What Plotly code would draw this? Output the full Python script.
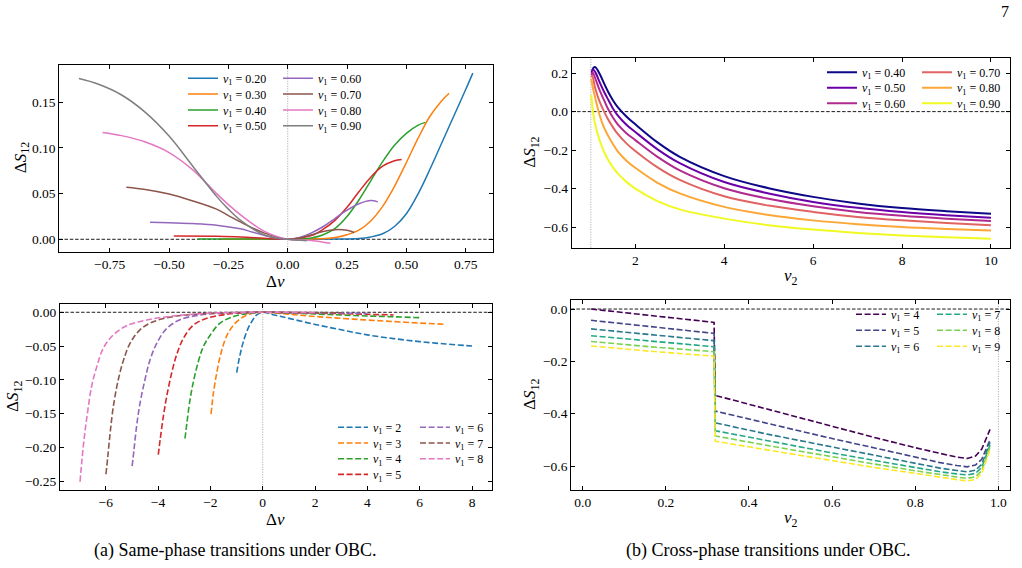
import plotly.graph_objects as go

W, H = 1022, 568
FONT = "Liberation Serif, Times New Roman, Times, serif"

# ---------------- data: (a) top, same-phase, v2 in (0,1) ----------------
a_top_v1 = [0.20, 0.30, 0.40, 0.50, 0.60, 0.70, 0.80, 0.90]
a_top_dv = [
    [-0.18, -0.1, 0, 0.1, 0.2, 0.3, 0.35, 0.4, 0.45, 0.5, 0.55, 0.6, 0.65, 0.7, 0.75, 0.78],
    [-0.28, -0.1, 0, 0.1, 0.2, 0.25, 0.3, 0.35, 0.4, 0.45, 0.5, 0.55, 0.6, 0.65, 0.68],
    [-0.38, -0.2, -0.1, 0, 0.1, 0.15, 0.2, 0.25, 0.3, 0.35, 0.4, 0.45, 0.5, 0.55, 0.58],
    [-0.48, -0.3, -0.2, -0.1, 0, 0.1, 0.15, 0.2, 0.25, 0.3, 0.35, 0.4, 0.45, 0.48],
    [-0.58, -0.5, -0.4, -0.3, -0.2, -0.15, -0.1, -0.05, 0, 0.05, 0.1, 0.15, 0.2, 0.25, 0.3, 0.35, 0.38],
    [-0.68, -0.6, -0.5, -0.4, -0.3, -0.25, -0.2, -0.1, 0, 0.05, 0.1, 0.15, 0.2, 0.25, 0.28],
    [-0.78, -0.7, -0.6, -0.5, -0.4, -0.3, -0.25, -0.2, -0.1, 0, 0.1, 0.18],
    [-0.88, -0.8, -0.7, -0.6, -0.5, -0.4, -0.3, -0.25, -0.2, -0.1, 0, 0.08],
]
a_top_ds = [
    [0, 0, 0, 0, 0.0002, 0.0008, 0.0025, 0.006, 0.014, 0.028, 0.050, 0.077, 0.106, 0.135, 0.164, 0.182],
    [0, 0, 0, 0.0002, 0.002, 0.005, 0.010, 0.020, 0.036, 0.058, 0.084, 0.111, 0.135, 0.152, 0.160],
    [0.0003, 0.0003, 0.0002, 0, 0.0015, 0.005, 0.012, 0.025, 0.043, 0.064, 0.085, 0.103, 0.116, 0.125, 0.128],
    [0.0036, 0.0032, 0.0026, 0.0012, 0, 0.004, 0.011, 0.021, 0.035, 0.052, 0.068, 0.080, 0.086, 0.0875],
    [0.0186, 0.018, 0.0172, 0.0155, 0.0115, 0.008, 0.0045, 0.0012, 0, 0.002, 0.007, 0.014, 0.023, 0.032, 0.039, 0.0425, 0.041],
    [0.057, 0.0545, 0.0495, 0.042, 0.033, 0.026, 0.019, 0.007, 0, 0.0015, 0.005, 0.0085, 0.0105, 0.0098, 0.0075],
    [0.117, 0.1135, 0.1065, 0.095, 0.076, 0.050, 0.038, 0.027, 0.009, 0, -0.0012, -0.0044],
    [0.176, 0.170, 0.158, 0.139, 0.113, 0.080, 0.047, 0.033, 0.021, 0.005, 0, -0.0015],
]

# ---------------- data: (b) top, cross-phase, v2 > 1 ----------------
b_top_v1 = [0.40, 0.50, 0.60, 0.70, 0.80, 0.90]
b_top_v2 = [
    [1.02, 1.06, 1.1, 1.2, 1.3, 1.4, 1.5, 1.6, 1.8, 2.0, 2.5, 3, 4, 5, 6, 7, 8, 9, 10],
    [1.02, 1.05, 1.1, 1.2, 1.3, 1.4, 1.5, 1.6, 1.8, 2.0, 2.5, 3, 4, 5, 6, 7, 8, 9, 10],
    [1.02, 1.04, 1.1, 1.2, 1.3, 1.4, 1.5, 1.6, 1.8, 2.0, 2.5, 3, 4, 5, 6, 7, 8, 9, 10],
    [1.01, 1.03, 1.1, 1.2, 1.3, 1.4, 1.5, 1.6, 1.8, 2.0, 2.5, 3, 4, 5, 6, 7, 8, 9, 10],
    [1.01, 1.05, 1.1, 1.2, 1.3, 1.4, 1.5, 1.6, 1.8, 2.0, 2.5, 3, 4, 5, 6, 7, 8, 9, 10],
    [1.01, 1.05, 1.1, 1.2, 1.3, 1.4, 1.5, 1.6, 1.8, 2.0, 2.5, 3, 4, 5, 6, 7, 8, 9, 10],
]
b_top_ds = [
    [0.205, 0.228, 0.231, 0.195, 0.145, 0.098, 0.058, 0.025, -0.025, -0.066, -0.160, -0.235, -0.335, -0.398, -0.443, -0.477, -0.501, -0.517, -0.530],
    [0.195, 0.219, 0.205, 0.152, 0.102, 0.058, 0.015, -0.018, -0.068, -0.106, -0.196, -0.268, -0.366, -0.425, -0.469, -0.500, -0.522, -0.538, -0.551],
    [0.190, 0.205, 0.172, 0.110, 0.058, 0.008, -0.032, -0.065, -0.112, -0.148, -0.235, -0.305, -0.398, -0.453, -0.492, -0.521, -0.541, -0.556, -0.568],
    [0.178, 0.188, 0.120, 0.050, 0.000, -0.045, -0.082, -0.115, -0.165, -0.205, -0.290, -0.355, -0.440, -0.488, -0.521, -0.547, -0.565, -0.579, -0.590],
    [0.171, 0.120, 0.070, -0.020, -0.085, -0.130, -0.170, -0.205, -0.255, -0.292, -0.370, -0.425, -0.495, -0.537, -0.565, -0.585, -0.600, -0.610, -0.618],
    [0.085, 0.000, -0.070, -0.150, -0.210, -0.255, -0.290, -0.320, -0.365, -0.400, -0.465, -0.508, -0.556, -0.590, -0.613, -0.630, -0.643, -0.653, -0.661],
]

# ---------------- data: (a) bottom, same-phase, v2 > 1 ----------------
a_bot_v1 = [2, 3, 4, 5, 6, 7, 8]
a_bot_dv = [
    [-0.994, -0.93, -0.866, -0.8, -0.739, -0.611, -0.5, -0.42, -0.3, -0.23, -0.1, 0, 0.5, 1, 2, 3, 4, 5, 6, 7, 8],
    [-1.975, -1.885, -1.758, -1.63, -1.44, -1.25, -0.99, -0.675, -0.357, 0, 1, 2, 3, 4, 5, 6, 7],
    [-2.97, -2.9, -2.78, -2.65, -2.46, -2.27, -2.01, -1.63, -1.12, -0.61, 0, 1, 2, 3, 4, 5, 6],
    [-3.99, -3.92, -3.80, -3.67, -3.48, -3.29, -3.03, -2.65, -2.14, -1.38, -0.6, 0, 1, 2, 3, 4, 5],
    [-4.99, -4.92, -4.82, -4.69, -4.50, -4.31, -4.05, -3.67, -3.16, -2.39, -1.38, 0, 1, 2, 3, 4],
    [-5.99, -5.92, -5.83, -5.71, -5.52, -5.32, -5.07, -4.69, -4.18, -3.41, -2.39, -1.12, 0, 1, 2, 3],
    [-6.98, -6.92, -6.83, -6.70, -6.54, -6.34, -6.09, -5.71, -5.20, -4.43, -3.41, -2.14, 0, 1, 2],
]
a_bot_ds = [
    [-0.0894, -0.075, -0.063, -0.052, -0.0435, -0.0287, -0.019, -0.0138, -0.007, -0.004, -0.001, 0, -0.0045, -0.009, -0.018, -0.026, -0.0335, -0.039, -0.0435, -0.047, -0.050],
    [-0.151, -0.120, -0.090, -0.066, -0.041, -0.026, -0.0138, -0.0054, -0.0015, 0, -0.003, -0.0062, -0.009, -0.0115, -0.0138, -0.016, -0.0178],
    [-0.187, -0.165, -0.130, -0.103, -0.073, -0.051, -0.034, -0.016, -0.0064, -0.002, 0, -0.0012, -0.0025, -0.004, -0.0055, -0.0067, -0.008],
    [-0.211, -0.189, -0.155, -0.125, -0.090, -0.063, -0.0385, -0.019, -0.009, -0.003, -0.0005, 0, -0.0006, -0.0013, -0.002, -0.003, -0.004],
    [-0.228, -0.204, -0.169, -0.135, -0.100, -0.071, -0.046, -0.024, -0.011, -0.004, -0.001, 0, -0.0004, -0.0008, -0.0013, -0.0018],
    [-0.240, -0.214, -0.179, -0.140, -0.100, -0.071, -0.046, -0.026, -0.014, -0.0064, -0.0025, -0.0005, 0, -0.0002, -0.0005, -0.0008],
    [-0.251, -0.224, -0.189, -0.150, -0.110, -0.0805, -0.053, -0.0336, -0.020, -0.0114, -0.0054, -0.0015, 0, -0.0001, -0.0003],
]

# ---------------- data: (b) bottom, cross-phase, v2 in (0,1) ----------------
b_bot_v1 = [4, 5, 6, 7, 8, 9]
b_bot_v2 = [0.02, 0.16, 0.316, 0.319, 0.45, 0.6, 0.7, 0.8, 0.86, 0.9, 0.925, 0.945, 0.96, 0.98]
b_bot_ds = [
    [0.000, -0.025, -0.051, -0.330, -0.385, -0.450, -0.490, -0.530, -0.552, -0.566, -0.571, -0.562, -0.535, -0.460],
    [-0.043, -0.067, -0.093, -0.390, -0.440, -0.495, -0.530, -0.567, -0.587, -0.598, -0.603, -0.596, -0.574, -0.500],
    [-0.076, -0.098, -0.121, -0.435, -0.480, -0.527, -0.558, -0.590, -0.608, -0.617, -0.622, -0.616, -0.593, -0.510],
    [-0.102, -0.123, -0.144, -0.465, -0.505, -0.550, -0.578, -0.606, -0.622, -0.630, -0.634, -0.628, -0.605, -0.520],
    [-0.124, -0.144, -0.163, -0.485, -0.523, -0.566, -0.592, -0.618, -0.634, -0.642, -0.647, -0.641, -0.618, -0.527],
    [-0.141, -0.161, -0.180, -0.505, -0.540, -0.580, -0.605, -0.628, -0.644, -0.652, -0.657, -0.651, -0.628, -0.537],
]

# ---------------- styling ----------------
TAB10 = ["#1f77b4", "#ff7f0e", "#2ca02c", "#d62728", "#9467bd", "#8c564b", "#e377c2", "#7f7f7f"]
PLASMA6 = ["#0d0887", "#6a00a8", "#b12a90", "#e16462", "#fca636", "#f0f921"]
VIRIDIS6 = ["#440154", "#414487", "#2a788e", "#22a884", "#7ad151", "#fde725"]

def px_x(p):
    return p / W

def px_y(p):
    return 1 - p / H

PANELS = {
    "tl": dict(x=(59.2, 492.5), y=(64.6, 251.8), xr=[-0.963, 0.863], yr=[-0.0137, 0.1913]),
    "tr": dict(x=(571.8, 1010.1), y=(57.9, 247.7), xr=[0.572, 10.43], yr=[-0.707, 0.279]),
    "bl": dict(x=(59.9, 491.7), y=(303.8, 490.2), xr=[-7.75, 8.75], yr=[-0.2636, 0.01255]),
    "br": dict(x=(571.1, 1010.0), y=(300.4, 489.6), xr=[-0.028, 1.028], yr=[-0.69, 0.033]),
}
AX = {"tl": ("x", "y", ""), "tr": ("x2", "y2", "2"), "bl": ("x3", "y3", "3"), "br": ("x4", "y4", "4")}

LEG = {
    "tl": (223, 318, 78.3, 15.8, 4),
    "tr": (862, 957, 72.3, 15.5, 3),
    "bl": (373, 455, 427.3, 15.7, 4),
    "br": (891, 972, 314.3, 16.0, 3),
}

fig = go.Figure()
legends = {}
leg_counter = [0]

def add_series(panel, i, x, y, name, color, width, dash, shape):
    leg_counter[0] += 1
    n = leg_counter[0]
    lid = "legend" if n == 1 else f"legend{n}"
    c1, c2, r0, dy, rows = LEG[panel]
    col = i // rows
    row = i % rows
    tx = c1 if col == 0 else c2
    cy = r0 + row * dy
    legends[lid] = dict(
        x=px_x(tx - 40), y=px_y(cy - 14.5), xanchor="left", yanchor="top",
        bgcolor="rgba(0,0,0,0)", borderwidth=0, itemwidth=30,
        font=dict(family=FONT, size=12, color="black"),
        tracegroupgap=0,
    )
    xa, ya, _ = AX[panel]
    line = dict(color=color, width=width, dash=dash, shape=shape)
    if shape == "spline":
        line["smoothing"] = 1.0
    fig.add_trace(go.Scatter(
        x=x, y=y, mode="lines", name=name, legend=lid, line=line,
        xaxis=xa, yaxis=ya, showlegend=True,
    ))

for i, v in enumerate(a_top_v1):
    add_series("tl", i, a_top_dv[i], a_top_ds[i], f"<i>v</i><sub>1</sub> = {v:.2f}", TAB10[i], 1.5, "solid", "spline")
for i, v in enumerate(b_top_v1):
    add_series("tr", i, b_top_v2[i], b_top_ds[i], f"<i>v</i><sub>1</sub> = {v:.2f}", PLASMA6[i], 2.0, "solid", "spline")
for i, v in enumerate(a_bot_v1):
    add_series("bl", i, a_bot_dv[i], a_bot_ds[i], f"<i>v</i><sub>1</sub> = {v}", TAB10[i], 1.6, "6px,2.6px", "spline")
for i, v in enumerate(b_bot_v1):
    add_series("br", i, b_bot_v2, b_bot_ds[i], f"<i>v</i><sub>1</sub> = {v}", VIRIDIS6[i], 1.6, "6px,2.6px", "linear")

layout = dict(
    width=W, height=H, margin=dict(l=0, r=0, t=0, b=0),
    paper_bgcolor="white", plot_bgcolor="white",
    font=dict(family=FONT, size=13, color="black"),
    showlegend=True,
)
layout.update(legends)

TICKS = {
    "tl": dict(x=dict(tickvals=[-0.75, -0.5, -0.25, 0, 0.25, 0.5, 0.75], tickformat=".2f"),
               y=dict(tickvals=[0, 0.05, 0.10, 0.15], tickformat=".2f")),
    "tr": dict(x=dict(tickvals=[2, 4, 6, 8, 10], tickformat="d"),
               y=dict(tickvals=[-0.6, -0.4, -0.2, 0, 0.2], tickformat=".1f")),
    "bl": dict(x=dict(tickvals=[-6, -4, -2, 0, 2, 4, 6, 8], tickformat="d"),
               y=dict(tickvals=[-0.25, -0.2, -0.15, -0.1, -0.05, 0], tickformat=".2f")),
    "br": dict(x=dict(tickvals=[0, 0.2, 0.4, 0.6, 0.8, 1.0], tickformat=".1f"),
               y=dict(tickvals=[-0.6, -0.4, -0.2, 0], tickformat=".1f")),
}

common = dict(showline=True, linecolor="black", linewidth=1, mirror="allticks",
              ticks="inside", ticklen=4, tickwidth=1, tickcolor="black",
              showgrid=False, zeroline=False, tickfont=dict(family=FONT, size=13.5, color="black"),
              fixedrange=True)

for p, (xa, ya, s) in AX.items():
    P = PANELS[p]
    layout[f"xaxis{s}"] = dict(domain=[px_x(P["x"][0]), px_x(P["x"][1])], range=P["xr"],
                               anchor=ya, **common, **TICKS[p]["x"])
    layout[f"yaxis{s}"] = dict(domain=[px_y(P["y"][1]), px_y(P["y"][0])], range=P["yr"],
                               anchor=xa, **common, **TICKS[p]["y"])

fig.update_layout(**layout)

vlines = {"tl": 0, "tr": 1, "bl": 0, "br": 1}
for p, (xa, ya, s) in AX.items():
    fig.add_shape(type="line", xref=f"{xa} domain", yref=ya, x0=0, x1=1, y0=0, y1=0,
                  line=dict(color="black", width=0.9, dash="3.5px,1.8px"), layer="below")
    fig.add_shape(type="line", xref=xa, yref=f"{ya} domain", x0=vlines[p], x1=vlines[p], y0=0, y1=1,
                  line=dict(color="#9a9a9a", width=0.9, dash="1px,1.5px"), layer="below")

def title_ann(text, xpx, ypx, angle=0, size=16):
    fig.add_annotation(text=text, x=px_x(xpx), y=px_y(ypx), xref="paper", yref="paper",
                       showarrow=False, textangle=angle, xanchor="center", yanchor="middle",
                       font=dict(family=FONT, size=size, color="black"))

for p, (xa, ya, s) in AX.items():
    P = PANELS[p]
    xc = (P["x"][0] + P["x"][1]) / 2
    xt = "Δ<i>v</i>" if p in ("tl", "bl") else "<i>v</i><sub>2</sub>"
    title_ann(xt, xc, P["y"][1] + 29.5, size=17)
yl = {"tl": 22, "tr": 531, "bl": 14, "br": 531}
for p in AX:
    P = PANELS[p]
    title_ann("Δ<i>S</i><sub>12</sub>", yl[p], (P["y"][0] + P["y"][1]) / 2, -90, size=17)

title_ann("(a) Same-phase transitions under OBC.", 235, 550, size=18)
title_ann("(b) Cross-phase transitions under OBC.", 768, 550, size=18)
title_ann("7", 1005, 12, size=16)

fig.write_html("out.html")
